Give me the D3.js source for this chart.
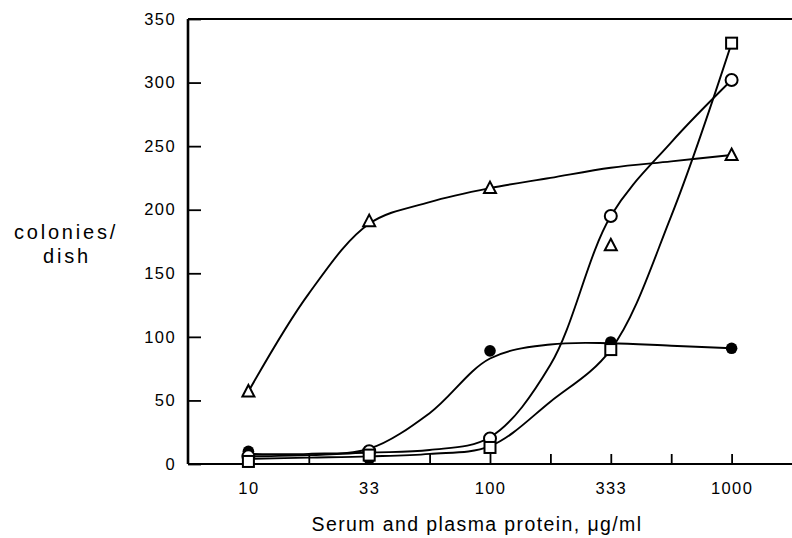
<!DOCTYPE html>
<html>
<head>
<meta charset="utf-8">
<script src="https://cdn.jsdelivr.net/npm/d3@7"></script>
<style>
  html, body { margin: 0; padding: 0; background: #fff; overflow: hidden; }
  svg { display: block; }
  svg text { font-family: "Liberation Sans", Arial, Helvetica, sans-serif; fill: #000; }
</style>
</head>
<body>
<svg id="chart"></svg>
<script>
// protein concentrations (µg/ml), equally spaced half-log steps
const doseLabels = ["10", "33", "100", "333", "1000"];
const doseSteps = [0, 1, 2, 3, 4];
// positions where the hand-drawn curves were read (incl. minor ticks)
const curveSteps = [0, 0.5, 1, 1.5, 2, 2.5, 3, 3.5, 4];
const yTicks = [0, 50, 100, 150, 200, 250, 300, 350];

// plotted points, colonies/dish
const triangleValues = [57, 191, 217, 172, 243];
const openCircleValues = [6, 10, 20, 195, 302];
const filledCircleValues = [10, 4, 89, 96, 91];
const squareValues = [2, 7, 13, 90, 331];

// fitted curves drawn through the points, read at curveSteps
const triangleCurve = [57, 134, 189, 206, 217, 225, 233, 238, 243];
const openCircleCurve = [6, 7, 9, 11, 21, 78, 195, 253, 302];
const filledCircleCurve = [8, 8, 12, 40, 83, 94, 95, 93, 91];
const squareCurve = [4, 5, 6, 8, 14, 49, 90, 195, 331];

const width = 792;
const height = 538;
const margin = { top: 19, right: 0, bottom: 74, left: 188 };

const svg = d3.select("#chart")
  .attr("width", width)
  .attr("height", height);

const innerWidth = width - margin.left - margin.right;
const innerHeight = height - margin.top - margin.bottom;
const g = svg.append("g")
  .attr("transform", `translate(${margin.left},${margin.top})`);

const x = d3.scaleLinear()
  .domain([-0.5, 4.5])
  .range([0, innerWidth]);

const y = d3.scaleLinear()
  .domain([0, 350])
  .range([innerHeight, 0]);

const line = d3.line()
  .x(d => x(d[0]))
  .y(d => y(d[1]))
  .curve(d3.curveCatmullRom.alpha(0.5));

const series = [
  { name: "filled", marks: filledCircleValues, curve: filledCircleCurve },
  { name: "triangle", marks: triangleValues, curve: triangleCurve },
  { name: "square", marks: squareValues, curve: squareCurve },
  { name: "circle", marks: openCircleValues, curve: openCircleCurve },
];

series.forEach(s => {
  g.append("path")
    .datum(d3.zip(curveSteps, s.curve))
    .attr("fill", "none")
    .attr("stroke", "#000")
    .attr("stroke-width", 1.9)
    .attr("d", line);
});

// axes
const xAxis = d3.axisBottom(x)
  .tickValues(curveSteps)
  .tickSize(-10)
  .tickSizeOuter(0)
  .tickPadding(18)
  .tickFormat(d => Number.isInteger(d) ? doseLabels[d] : "");
const xAxisG = g.append("g")
  .attr("transform", `translate(0,${innerHeight})`)
  .call(xAxis);
xAxisG.select(".domain").attr("stroke-width", 2.2).attr("d", `M0,0H${innerWidth}`);
xAxisG.selectAll(".tick line").attr("stroke-width", 1.8);
xAxisG.selectAll(".tick text").filter(d => !Number.isInteger(d)).remove();
xAxisG.selectAll("text")
  .style("font-size", "16.5px")
  .style("letter-spacing", "1.4px");

const yAxis = d3.axisLeft(y)
  .tickValues(yTicks)
  .tickSize(-13)
  .tickSizeOuter(0)
  .tickPadding(12);
const yAxisG = g.append("g").call(yAxis);
yAxisG.select(".domain").attr("stroke-width", 2.6).attr("d", `M0,0V${innerHeight}`);
yAxisG.selectAll(".tick line").attr("stroke-width", 1.8);
yAxisG.selectAll("text")
  .style("font-size", "16.5px")
  .style("letter-spacing", "1.4px");

g.append("line")
  .attr("x1", 0)
  .attr("x2", innerWidth)
  .attr("y1", 0)
  .attr("y2", 0)
  .attr("stroke", "#000")
  .attr("stroke-width", 2);

// markers
const pts = vals => vals.map((v, i) => ({ step: doseSteps[i], v }));

g.selectAll(".filled")
  .data(pts(filledCircleValues))
  .enter().append("circle")
  .attr("class", "filled")
  .attr("cx", d => x(d.step))
  .attr("cy", d => y(d.v))
  .attr("r", 5.8)
  .attr("fill", "#000");

g.selectAll(".circle")
  .data(pts(openCircleValues))
  .enter().append("circle")
  .attr("class", "circle")
  .attr("cx", d => x(d.step))
  .attr("cy", d => y(d.v))
  .attr("r", 6)
  .attr("fill", "#fff")
  .attr("stroke", "#000")
  .attr("stroke-width", 2);

g.selectAll(".square")
  .data(pts(squareValues))
  .enter().append("rect")
  .attr("class", "square")
  .attr("x", d => x(d.step) - 5.5)
  .attr("y", d => y(d.v) - 5.5)
  .attr("width", 11)
  .attr("height", 11)
  .attr("fill", "#fff")
  .attr("stroke", "#000")
  .attr("stroke-width", 2);

g.selectAll(".triangle")
  .data(pts(triangleValues))
  .enter().append("path")
  .attr("class", "triangle")
  .attr("transform", d => `translate(${x(d.step)},${y(d.v)})`)
  .attr("d", "M0,-6.5L6,5L-6,5Z")
  .attr("fill", "#fff")
  .attr("stroke", "#000")
  .attr("stroke-width", 2)
  .attr("stroke-linejoin", "miter");

// axis titles
svg.append("text")
  .attr("x", 477)
  .attr("y", 531)
  .attr("text-anchor", "middle")
  .style("font-size", "19.5px")
  .style("letter-spacing", "1.4px")
  .text("Serum and plasma protein, μg/ml");

const yTitle = svg.append("text")
  .attr("text-anchor", "middle")
  .style("font-size", "20px")
  .style("letter-spacing", "2.8px");
yTitle.append("tspan").attr("x", 66).attr("y", 239).text("colonies/");
yTitle.append("tspan").attr("x", 67).attr("y", 263).text("dish");
</script>
</body>
</html>
